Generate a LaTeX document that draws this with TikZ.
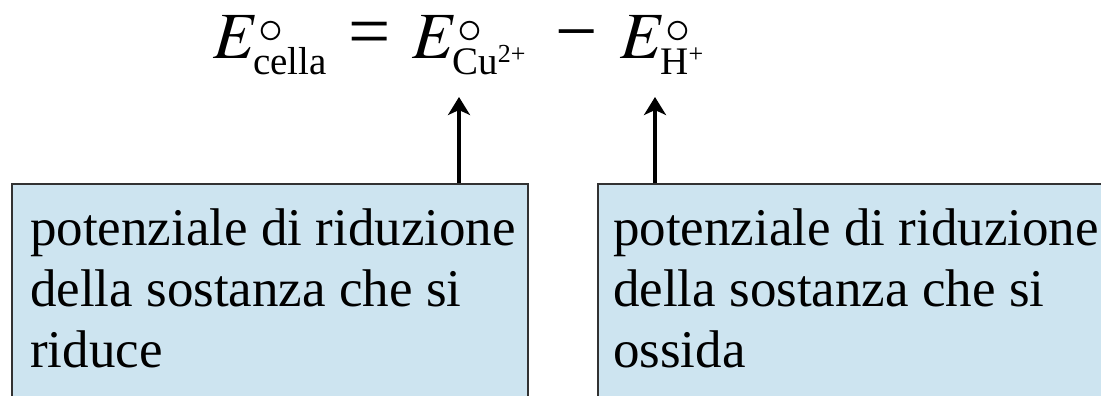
\documentclass[tikz,border=0pt]{standalone}
\usepackage{mathptmx}
\usepackage{fontspec}
\setmainfont{Liberation Serif}
\usetikzlibrary{arrows.meta}
\definecolor{boxfill}{RGB}{205,228,240}
\definecolor{boxline}{RGB}{50,50,50}
\newcommand{\Epot}[1]{$E$\rlap{\kern0pt\raisebox{15pt}{\fontsize{50}{50}\selectfont$\circ$}}\kern-5pt\raisebox{-16pt}{\fontsize{39}{39}\selectfont #1}}
\newcommand{\supsm}[1]{\raisebox{12pt}{\fontsize{26}{26}\selectfont #1}}
\begin{document}
\begin{tikzpicture}[x=1pt,y=1pt,
  infobox/.style={draw=boxline, line width=1.5pt, fill=boxfill, anchor=north west, inner sep=0pt},
  boxtext/.style={anchor=north west, inner sep=0pt, align=left, font={\fontsize{53}{61}\selectfont}},
  eq/.style={anchor=base west, inner sep=0pt, font={\fontsize{66}{70}\selectfont}},
  op/.style={anchor=base west, inner sep=0pt, font={\fontsize{75}{78}\selectfont}},
  pointer/.style={line width=3.3pt, -{Stealth[length=18pt,width=22pt,inset=5pt]}}
]
\useasboundingbox (0,0) rectangle (1101,-396);
\clip (0,0) rectangle (1101,-396);
% equation
\node[eq] (lhs) at (213,-59) {\Epot{cella}};
\node[op] (eqs) at (348,-57) {=};
\node[eq] (cu) at (412,-59) {\Epot{Cu\supsm{2+}}};
\node[op] (minus) at (555,-57) {−};
\node[eq] (h) at (620,-59) {\Epot{H\supsm{+}}};
% boxes
\node[infobox, minimum width=516pt, minimum height=240pt] (b1) at (11,-183) {};
\node[infobox, minimum width=520pt, minimum height=240pt] (b2) at (597,-183) {};
\node[boxtext] (t1) at (30,-209) {potenziale di riduzione\\della sostanza che si\\riduce};
\node[boxtext] (t2) at (613,-209) {potenziale di riduzione\\della sostanza che si\\ossida};
% arrows
\coordinate (a1) at (459,-97);
\coordinate (a2) at (655,-97);
\draw[pointer] (a1 |- b1.north) -- (a1);
\draw[pointer] (a2 |- b2.north) -- (a2);
\end{tikzpicture}
\end{document}
